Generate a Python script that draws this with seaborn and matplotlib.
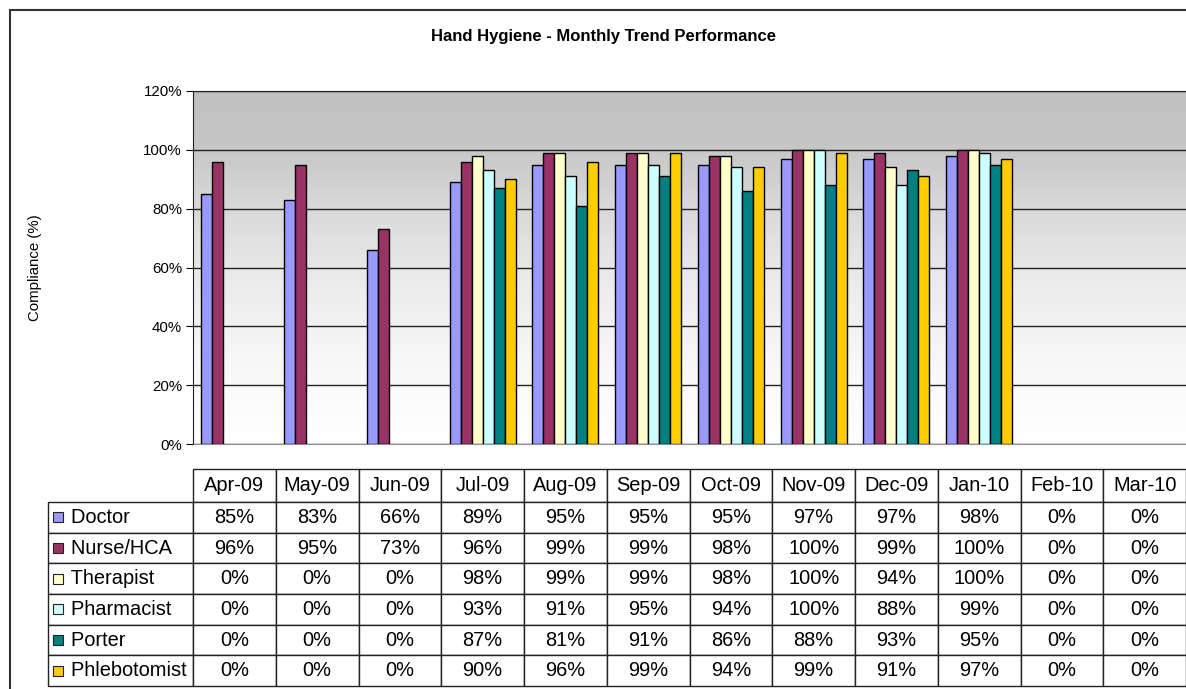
import numpy as np
import pandas as pd
import matplotlib
matplotlib.use("Agg")
import matplotlib.pyplot as plt
import seaborn as sns
from matplotlib.colors import LinearSegmentedColormap
from matplotlib.patches import Rectangle
from matplotlib.table import Table
from matplotlib.ticker import PercentFormatter

# Daten
monate = ["Apr-09", "May-09", "Jun-09", "Jul-09", "Aug-09", "Sep-09",
          "Oct-09", "Nov-09", "Dec-09", "Jan-10", "Feb-10", "Mar-10"]
rollen = ["Doctor", "Nurse/HCA", "Therapist", "Pharmacist", "Porter", "Phlebotomist"]
doctor = [85, 83, 66, 89, 95, 95, 95, 97, 97, 98, 0, 0]
nurse = [96, 95, 73, 96, 99, 99, 98, 100, 99, 100, 0, 0]
therapist = [0, 0, 0, 98, 99, 99, 98, 100, 94, 100, 0, 0]
pharmacist = [0, 0, 0, 93, 91, 95, 94, 100, 88, 99, 0, 0]
porter = [0, 0, 0, 87, 81, 91, 86, 88, 93, 95, 0, 0]
phlebotomist = [0, 0, 0, 90, 96, 99, 94, 99, 91, 97, 0, 0]
farben = ["#9999FF", "#993366", "#FFFFCC", "#CCFFFF", "#008080", "#FFCC00"]

werte = [doctor, nurse, therapist, pharmacist, porter, phlebotomist]
df = pd.DataFrame([(m, r, v) for r, reihe in zip(rollen, werte) for m, v in zip(monate, reihe)],
                  columns=["monat", "rolle", "wert"])

plt.rcParams["font.family"] = ["Liberation Sans", "DejaVu Sans"]

W, H = 1186, 689
fig = plt.figure(figsize=(W / 100, H / 100), dpi=100)

# Rahmen um das ganze Diagramm
fig.add_artist(Rectangle((10 / W, -0.05), 1.1, 1 - 10 / H + 0.05, transform=fig.transFigure,
                         fill=False, edgecolor="#333333", linewidth=1.5, clip_on=False))

ax = fig.add_axes([193 / W, 1 - 444 / H, (W - 193) / W, (444 - 91) / H])

# Hintergrund-Verlauf
verlauf = LinearSegmentedColormap.from_list(
    "verlauf", [(0, "#ffffff"), (0.2, "#f9f9f9"), (0.45, "#ececec"), (0.7, "#d6d6d6"),
                (0.85, "#c6c6c6"), (1, "#c0c0c0")])
ax.imshow(np.linspace(1, 0, 200).reshape(-1, 1), cmap=verlauf, aspect="auto",
          extent=(-0.5, 11.5, 0, 120), zorder=0)

sns.barplot(data=df, x="monat", y="wert", hue="rolle", order=monate, hue_order=rollen,
            palette=farben, saturation=1, edgecolor="black", linewidth=1,
            errorbar=None, legend=False, ax=ax, zorder=3)
for p in ax.patches:
    if p.get_height() == 0:
        p.set_visible(False)

ax.set_xlim(-0.5, 11.5)
ax.set_ylim(0, 120)
ax.set_yticks(range(0, 121, 20))
ax.yaxis.set_major_formatter(PercentFormatter(decimals=0))
ax.tick_params(axis="y", labelsize=10.8, length=5, direction="out", pad=3)
ax.set_xticks([])
ax.set_xlabel("")
ax.set_ylabel("")
ax.yaxis.grid(True, color="#222222", linewidth=1)
ax.set_axisbelow(False)
for linie in ax.get_ygridlines():
    linie.set_zorder(1)
ax.spines["right"].set_visible(False)
ax.spines["top"].set_color("#222222")
ax.spines["left"].set_color("#222222")
ax.spines["bottom"].set_color("#909090")

fig.text(604 / W, 1 - 37 / H, "Hand Hygiene - Monthly Trend Performance",
         ha="center", va="center", fontsize=12, fontweight="bold")
fig.text(35 / W, 1 - 268 / H, "Compliance (%)", rotation=90,
         ha="center", va="center", fontsize=10.8)

# Datentabelle unter dem Diagramm
t_links, t_oben, t_unten = 48, 469, 686
tax = fig.add_axes([t_links / W, 1 - t_unten / H, (W - t_links) / W, (t_unten - t_oben) / H])
tax.axis("off")
gesamt_b = W - t_links
gesamt_h = t_unten - t_oben
kopf_h = 33
zeile_h = (gesamt_h - kopf_h) / len(rollen)
erste_b = 193 - t_links
monat_b = (W - 193) / len(monate)

tabelle = Table(tax, bbox=[0, 0, 1, 1])
tabelle.add_cell(0, 0, erste_b / gesamt_b, kopf_h / gesamt_h, text="").visible_edges = ""
for j, m in enumerate(monate, start=1):
    tabelle.add_cell(0, j, monat_b / gesamt_b, kopf_h / gesamt_h, text=m, loc="center")
for i, (r, reihe) in enumerate(zip(rollen, werte), start=1):
    tabelle.add_cell(i, 0, erste_b / gesamt_b, zeile_h / gesamt_h, text="  " + r, loc="left")
    for j, v in enumerate(reihe, start=1):
        tabelle.add_cell(i, j, monat_b / gesamt_b, zeile_h / gesamt_h, text=f"{v}%", loc="center")
tabelle.auto_set_font_size(False)
tabelle.set_fontsize(14.4)
for (i, j), zelle in tabelle.get_celld().items():
    zelle.set_edgecolor("#222222")
    zelle.set_linewidth(1)
    if j == 0:
        zelle.PAD = 0.08
tax.add_table(tabelle)

# farbige Kaestchen vor den Rollennamen
for i, f in enumerate(farben):
    y_mitte = 1 - (kopf_h + (i + 0.5) * zeile_h) / gesamt_h
    tax.add_patch(Rectangle(((53 - t_links) / gesamt_b, y_mitte - 5 / gesamt_h),
                            10 / gesamt_b, 10 / gesamt_h, transform=tax.transAxes,
                            facecolor=f, edgecolor="#222222", linewidth=0.8, clip_on=False))

fig.savefig("out.png", dpi=100)
